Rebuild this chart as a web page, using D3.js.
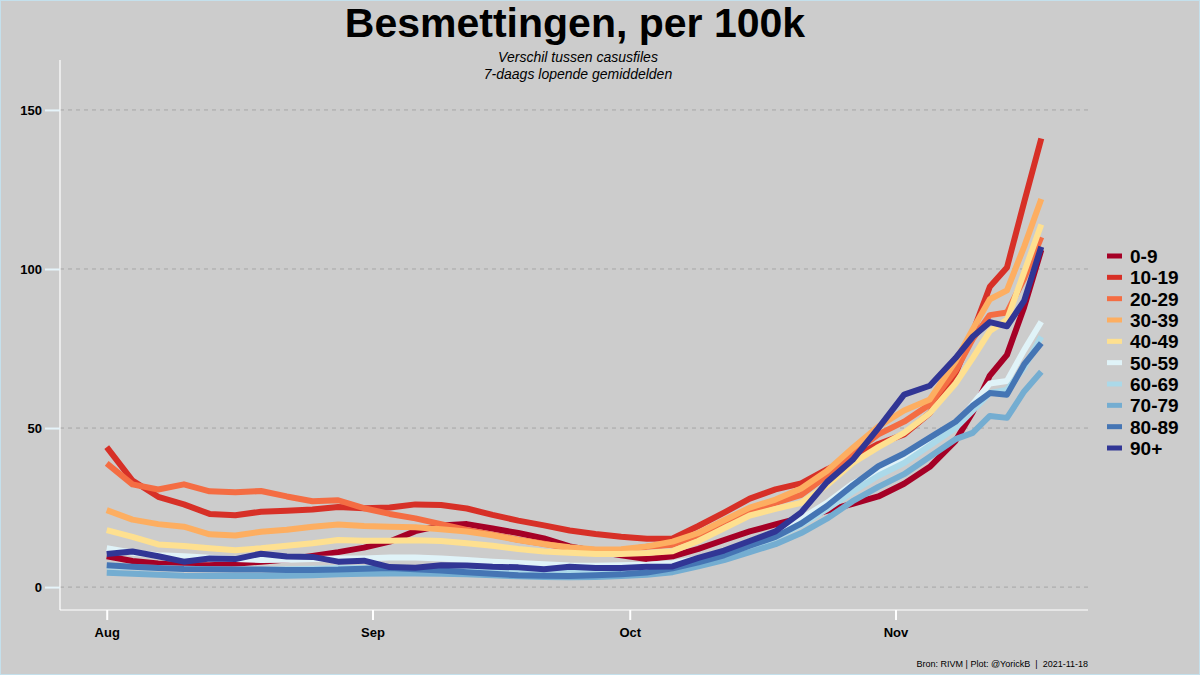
<!DOCTYPE html>
<html><head><meta charset="utf-8">
<script src="https://cdn.jsdelivr.net/npm/d3@7"></script>
<style>
html,body{margin:0;padding:0;background:#cccccc;}
svg{display:block;font-family:"Liberation Sans",Arial,sans-serif;}
</style></head>
<body>
<svg id="chart" width="1200" height="675"></svg>
<script>
// ---- data ----
const dates = ["2021-08-01","2021-08-04","2021-08-07","2021-08-10","2021-08-13","2021-08-16","2021-08-19","2021-08-22","2021-08-25","2021-08-28","2021-08-31","2021-09-03","2021-09-06","2021-09-09","2021-09-12","2021-09-15","2021-09-18","2021-09-21","2021-09-24","2021-09-27","2021-09-30","2021-10-03","2021-10-06","2021-10-09","2021-10-12","2021-10-15","2021-10-18","2021-10-21","2021-10-24","2021-10-27","2021-10-30","2021-11-02","2021-11-05","2021-11-08","2021-11-10","2021-11-12","2021-11-14","2021-11-16","2021-11-18"];
const ageGroups = ["0-9","10-19","20-29","30-39","40-49","50-59","60-69","70-79","80-89","90+"];
const colors = ["#a50026","#d73027","#f46d43","#fdae61","#fee090","#e0f3f8","#abd9e9","#74add1","#4575b4","#313695"];
const yTicks = [0,50,100,150];
const xTickLabels = ["Aug","Sep","Oct","Nov"];
const xTickDates = ["2021-08-01","2021-09-01","2021-10-01","2021-11-01"];

const s0_9   = [9.7,8.2,7.4,6.9,6.9,7.3,8.0,8.7,9.8,11.0,12.4,14.3,17.6,19.4,19.8,18.4,17.0,15.3,12.8,11.3,10.0,8.8,9.7,12.0,14.8,17.5,19.7,21.8,24.0,26.2,28.5,32.5,37.8,46.0,55.0,66.5,73.0,88.0,106.0];
const s10_19 = [44.0,33.5,28.4,26.0,23.0,22.6,23.7,24.0,24.4,25.2,24.8,25.0,26.0,25.8,24.7,22.7,20.9,19.4,17.8,16.7,15.8,15.2,15.3,19.2,23.4,27.8,30.7,32.6,37.0,40.8,45.0,48.0,54.7,67.2,80.0,94.4,100.5,121.0,141.0];
const s20_29 = [38.9,32.3,30.7,32.3,30.1,29.8,30.2,28.5,27.0,27.3,24.8,23.0,21.6,19.8,18.0,16.5,14.9,13.6,12.2,11.7,11.5,12.7,13.3,16.3,20.6,24.0,26.5,29.0,35.0,42.0,48.0,52.0,57.4,68.0,78.0,85.5,86.3,97.0,110.0];
const s30_39 = [24.2,21.2,19.8,19.0,16.6,16.2,17.4,18.0,19.0,19.7,19.2,19.0,18.8,18.2,17.5,16.3,14.8,13.5,12.5,11.8,11.9,12.8,14.3,17.0,21.0,25.0,27.5,31.0,36.5,43.7,50.5,55.5,59.0,71.0,81.0,90.5,93.3,107.0,122.0];
const s40_49 = [17.9,15.8,13.4,12.9,12.2,11.6,12.2,13.0,13.8,14.8,14.6,14.6,14.7,14.5,13.8,13.0,12.0,11.2,10.8,10.4,10.4,10.7,11.3,14.5,18.5,22.5,24.6,26.5,32.0,39.0,44.0,48.5,54.7,64.0,72.0,80.5,84.0,99.0,114.0];
const s50_59 = [12.2,10.8,10.0,9.7,9.2,8.8,8.5,8.6,8.8,9.0,9.0,9.3,9.3,9.0,8.5,8.0,7.6,7.2,6.8,6.7,6.9,7.0,7.5,9.0,11.0,14.3,17.5,21.5,26.5,32.5,36.5,40.0,46.0,51.0,57.5,64.0,64.8,74.5,83.4];
const s60_69 = [6.5,6.2,6.0,5.8,5.6,5.5,5.5,5.6,5.8,6.0,6.0,6.0,5.9,5.7,5.5,5.2,5.0,4.8,4.6,4.6,4.8,5.0,5.5,7.5,9.5,12.5,15.5,19.5,24.5,30.0,35.0,39.0,44.5,50.0,55.5,61.0,62.0,69.0,78.7];
const s70_79 = [4.5,4.2,3.9,3.6,3.5,3.5,3.5,3.6,3.7,4.0,4.2,4.3,4.3,4.2,4.0,3.7,3.4,3.2,3.1,3.2,3.5,3.9,4.7,6.5,8.5,11.0,13.5,17.0,21.5,27.0,31.5,35.5,41.0,46.5,48.5,53.8,53.2,61.5,67.7];
const s80_89 = [6.9,6.4,6.0,5.7,5.6,5.5,5.5,5.4,5.4,5.5,5.8,6.0,5.6,5.2,4.7,4.2,3.7,3.6,3.5,3.7,4.0,4.6,5.9,7.8,10.0,13.0,15.8,20.0,25.5,32.0,38.0,42.0,47.0,52.0,57.0,61.0,60.5,70.0,76.7];
const s90p   = [10.4,11.2,9.7,8.0,9.0,8.8,10.5,9.6,9.5,8.0,8.3,6.3,6.1,6.9,6.8,6.4,6.2,5.6,6.4,6.0,6.0,6.4,6.5,9.2,11.5,14.5,17.5,23.5,33.0,40.0,50.0,60.5,63.3,72.0,78.7,83.3,82.0,90.0,107.0];
const seriesValues = [s0_9,s10_19,s20_29,s30_39,s40_49,s50_59,s60_69,s70_79,s80_89,s90p];

// ---- drawing ----
const parse = d3.utcParse("%Y-%m-%d");
const svg = d3.select("#chart");
svg.append("rect").attr("x",0.5).attr("y",0.5).attr("width",1199).attr("height",674)
  .attr("fill","#cccccc").attr("stroke","#c4e0ec").attr("stroke-width",1);

const pl = 60, pr = 1088, pt = 60, pb = 610;
const d0 = parse(dates[0]), d1 = parse(dates[dates.length-1]);
const span = d1 - d0, pad = span*0.05;
const x = d3.scaleUtc().domain([new Date(+d0 - pad), new Date(+d1 + pad)]).range([pl, pr]);
const y = d3.scaleLinear().domain([-7.2, 165.7]).range([pb, pt]);

// grid
const grid = svg.append("g");
grid.selectAll("line").data(yTicks).join("line")
  .attr("x1",pl).attr("x2",pr).attr("y1",d=>y(d)).attr("y2",d=>y(d))
  .attr("stroke","#a6a6a6").attr("stroke-width",1).attr("stroke-dasharray","4,4");

// axes
const yAxis = d3.axisLeft(y).tickValues(yTicks).tickSize(15).tickPadding(3);
const gy = svg.append("g").attr("transform",`translate(${pl},0)`).call(yAxis);
gy.select(".domain").attr("stroke","#ffffff").attr("stroke-width",1.2);
gy.selectAll(".tick line").attr("stroke","#e6f4fa").attr("stroke-width",2);
gy.selectAll(".tick text").attr("font-size",13).attr("font-weight","bold").attr("fill","#000");

const xAxis = d3.axisBottom(x).tickValues(xTickDates.map(parse)).tickFormat((d,i)=>xTickLabels[i]).tickSize(10).tickPadding(8);
const gx = svg.append("g").attr("transform",`translate(0,${pb})`).call(xAxis);
gx.select(".domain").attr("stroke","#ffffff").attr("stroke-width",1.2);
gx.selectAll(".tick line").attr("stroke","#ffffff").attr("stroke-width",2);
gx.selectAll(".tick text").attr("font-size",13).attr("font-weight","bold").attr("fill","#000");
gy.select(".domain").attr("d",`M0,${pt}V${pb}`);
gx.select(".domain").attr("d",`M${pl},0H${pr}`);

// lines
const line = d3.line().x((d,i)=>x(parse(dates[i]))).y(d=>y(d));
svg.append("g").selectAll("path").data(seriesValues).join("path")
  .attr("d",d=>line(d)).attr("fill","none")
  .attr("stroke",(d,i)=>colors[i]).attr("stroke-width",6)
  .attr("stroke-linejoin","round").attr("stroke-linecap","butt");

// title
svg.append("text").attr("x",575).attr("y",37).attr("text-anchor","middle")
  .attr("font-size",41).attr("font-weight","bold").attr("fill","#000").text("Besmettingen, per 100k");
svg.append("text").attr("x",578).attr("y",62).attr("text-anchor","middle")
  .attr("font-size",14).attr("font-style","italic").attr("fill","#000").text("Verschil tussen casusfiles");
svg.append("text").attr("x",578).attr("y",79).attr("text-anchor","middle")
  .attr("font-size",14).attr("font-style","italic").attr("fill","#000").text("7-daags lopende gemiddelden");

// legend
const lg = svg.append("g");
const ly = d3.scalePoint().domain(ageGroups).range([256, 448]);
lg.selectAll("line").data(ageGroups).join("line")
  .attr("x1",1107).attr("x2",1122).attr("y1",d=>ly(d)).attr("y2",d=>ly(d))
  .attr("stroke",(d,i)=>colors[i]).attr("stroke-width",5);
lg.selectAll("text").data(ageGroups).join("text")
  .attr("x",1130).attr("y",d=>ly(d)).attr("dy","0.36em")
  .attr("font-size",19).attr("font-weight","bold").attr("fill","#000").text(d=>d);

// caption
svg.append("text").attr("x",1088).attr("y",667).attr("text-anchor","end")
  .attr("font-size",9).attr("fill","#000").attr("xml:space","preserve")
  .text("Bron: RIVM | Plot: @YorickB  |  2021-11-18");
</script>
</body></html>
